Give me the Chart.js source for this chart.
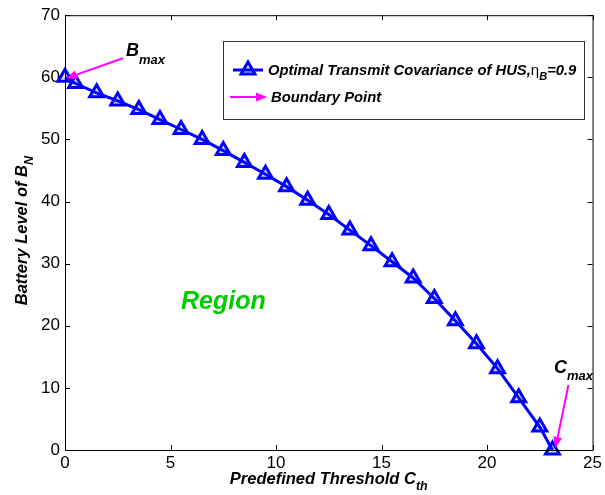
<!DOCTYPE html>
<html>
<head>
<meta charset="utf-8">
<script src="https://cdn.jsdelivr.net/npm/chart.js@4.4.1/dist/chart.umd.min.js"></script>
<style>
  html, body { margin: 0; padding: 0; background: #fff; }
  canvas { display: block; }
</style>
</head>
<body>
<canvas id="batteryChart" width="605" height="495"></canvas>
<script>
// predefined threshold C_th (x) and battery level B_N (y)
const thresholds = [0, 0.5, 1.5, 2.5, 3.5, 4.5, 5.5, 6.5, 7.5, 8.5, 9.5, 10.5, 11.5, 12.5,
    13.5, 14.5, 15.5, 16.5, 17.5, 18.5, 19.5, 20.5, 21.5, 22.5, 23.1];
const batteryLevel = [60, 59.0, 57.5, 56.2, 54.8, 53.2, 51.6, 50.0, 48.2, 46.3, 44.4, 42.4, 40.2, 37.9,
    35.4, 32.9, 30.3, 27.7, 24.4, 20.8, 17.1, 13.1, 8.4, 3.7, 0];
const xTicks = [0, 5, 10, 15, 20, 25];
const yTicks = [0, 10, 20, 30, 40, 50, 60, 70];

const FONT = "'Liberation Sans', Arial, Helvetica, sans-serif";
const BLUE = '#0000FF';
const MAGENTA = '#FF00FF';

// draw "main" followed by a lowered, smaller "sub"
function subText(ctx, x, y, main, sub, size, subSize, drop, style) {
    ctx.font = (style || 'italic bold') + ' ' + size + 'px ' + FONT;
    ctx.fillText(main, x, y);
    const w = ctx.measureText(main).width;
    ctx.font = (style || 'italic bold') + ' ' + subSize + 'px ' + FONT;
    ctx.fillText(sub, x + w, y + drop);
    return w + ctx.measureText(sub).width;
}

function arrow(ctx, x1, y1, x2, y2) {
    const ang = Math.atan2(y2 - y1, x2 - x1);
    const len = 11, half = 4.5;
    ctx.save();
    ctx.strokeStyle = MAGENTA;
    ctx.fillStyle = MAGENTA;
    ctx.lineWidth = 2;
    ctx.beginPath();
    ctx.moveTo(x1, y1);
    ctx.lineTo(x2 - Math.cos(ang) * len * 0.8, y2 - Math.sin(ang) * len * 0.8);
    ctx.stroke();
    ctx.beginPath();
    ctx.moveTo(x2, y2);
    ctx.lineTo(x2 - Math.cos(ang) * len - Math.sin(ang) * half, y2 - Math.sin(ang) * len + Math.cos(ang) * half);
    ctx.lineTo(x2 - Math.cos(ang) * len + Math.sin(ang) * half, y2 - Math.sin(ang) * len - Math.cos(ang) * half);
    ctx.closePath();
    ctx.fill();
    ctx.restore();
}

const decorations = {
    id: 'decorations',
    afterDatasetsDraw(chart) {
        const ctx = chart.ctx;
        const a = chart.chartArea;
        const xs = chart.scales.x, ys = chart.scales.y;
        ctx.save();

        // box and inward ticks
        ctx.strokeStyle = '#000';
        ctx.lineWidth = 1;
        ctx.strokeRect(a.left + 0.5, a.top + 0.5, a.right - a.left, a.bottom - a.top);
        ctx.beginPath();
        xTicks.forEach(function (v) {
            const px = Math.round(xs.getPixelForValue(v)) + 0.5;
            ctx.moveTo(px, a.bottom); ctx.lineTo(px, a.bottom - 5);
            ctx.moveTo(px, a.top); ctx.lineTo(px, a.top + 5);
        });
        yTicks.forEach(function (v) {
            const py = Math.round(ys.getPixelForValue(v)) + 0.5;
            ctx.moveTo(a.left, py); ctx.lineTo(a.left + 5, py);
            ctx.moveTo(a.right, py); ctx.lineTo(a.right - 5, py);
        });
        ctx.stroke();

        // legend
        ctx.strokeStyle = '#333';
        ctx.strokeRect(223.5, 41.5, 361, 78);
        ctx.strokeStyle = BLUE;
        ctx.lineWidth = 3;
        ctx.beginPath();
        ctx.moveTo(233, 70); ctx.lineTo(263, 70);
        ctx.stroke();
        ctx.lineWidth = 3;
        ctx.fillStyle = 'rgba(0,0,255,0.15)';
        ctx.beginPath();
        ctx.moveTo(248, 62); ctx.lineTo(254.9, 74); ctx.lineTo(241.1, 74);
        ctx.closePath();
        ctx.fill(); ctx.stroke();

        ctx.fillStyle = '#000';
        ctx.textAlign = 'left';
        ctx.textBaseline = 'alphabetic';
        ctx.font = 'italic bold 14.8px ' + FONT;
        const t1 = 'Optimal Transmit Covariance of HUS,';
        ctx.fillText(t1, 268, 75);
        let lx = 268 + ctx.measureText(t1).width;
        ctx.font = '15px ' + FONT;
        ctx.fillText('\u03B7', lx, 75);
        lx += ctx.measureText('\u03B7').width;
        ctx.font = 'italic bold 11px ' + FONT;
        ctx.fillText('B', lx, 80);
        lx += ctx.measureText('B').width;
        ctx.font = 'italic bold 14.8px ' + FONT;
        ctx.fillText('=0.9', lx, 75);

        arrow(ctx, 230, 97, 267, 97);
        ctx.fillStyle = '#000';
        ctx.font = 'italic bold 14.8px ' + FONT;
        ctx.fillText('Boundary Point', 271, 102);

        // B_max annotation
        const bx = xs.getPixelForValue(thresholds[0]);
        const by = ys.getPixelForValue(batteryLevel[0]);
        arrow(ctx, bx + 58, by - 19, bx + 1, by + 1);
        ctx.fillStyle = '#000';
        subText(ctx, 126, 56, 'B', 'max', 18, 13, 8);

        // C_max annotation
        const n = thresholds.length - 1;
        const cx = xs.getPixelForValue(thresholds[n]);
        const cy = ys.getPixelForValue(batteryLevel[n]);
        arrow(ctx, cx + 16, cy - 65, cx + 3, cy - 2);
        ctx.fillStyle = '#000';
        subText(ctx, 554, 373, 'C', 'max', 18, 13, 7);

        // Region label
        ctx.fillStyle = '#00CC00';
        ctx.font = 'italic bold 25px ' + FONT;
        ctx.fillText('Region', 181, 309);

        // axis titles
        ctx.fillStyle = '#000';
        ctx.font = 'italic bold 16.5px ' + FONT;
        const xt = 'Predefined Threshold C';
        const xw = ctx.measureText(xt).width;
        ctx.font = 'italic bold 12.5px ' + FONT;
        const xsw = ctx.measureText('th').width;
        subText(ctx, (a.left + a.right) / 2 - (xw + xsw) / 2, 484, xt, 'th', 16.5, 12.5, 6);

        ctx.save();
        ctx.translate(27, (a.top + a.bottom) / 2 - 2);
        ctx.rotate(-Math.PI / 2);
        ctx.font = 'italic bold 16.5px ' + FONT;
        const yt = 'Battery Level of B';
        const yw = ctx.measureText(yt).width;
        ctx.font = 'italic bold 12.5px ' + FONT;
        const ysw = ctx.measureText('N').width;
        subText(ctx, -(yw + ysw) / 2, 0, yt, 'N', 16.5, 12.5, 6);
        ctx.restore();

        ctx.restore();
    }
};

const ctx = document.getElementById('batteryChart');
new Chart(ctx, {
    type: 'line',
    data: {
        datasets: [{
            label: 'Optimal Transmit Covariance of HUS',
            data: thresholds.map(function (x, i) { return { x: x, y: batteryLevel[i] }; }),
            borderColor: BLUE,
            borderWidth: 3,
            pointStyle: 'triangle',
            pointRadius: 8,
            pointBorderWidth: 3,
            pointBorderColor: BLUE,
            pointBackgroundColor: 'rgba(0,0,255,0.15)',
            tension: 0,
            clip: false
        }]
    },
    options: {
        responsive: false,
        animation: false,
        devicePixelRatio: 1,
        layout: { padding: { left: 0, right: 9, top: 13, bottom: 0 } },
        plugins: { legend: { display: false }, tooltip: { enabled: false } },
        scales: {
            x: {
                type: 'linear',
                min: 0,
                max: 25,
                afterBuildTicks: function (s) { s.ticks = xTicks.map(function (v) { return { value: v }; }); },
                afterFit: function (s) { s.height = 45; },
                ticks: { color: '#000', font: { family: FONT, size: 17 }, padding: 3, maxRotation: 0 },
                grid: { display: false, drawTicks: false },
                border: { display: false }
            },
            y: {
                type: 'linear',
                min: 0,
                max: 70,
                afterBuildTicks: function (s) { s.ticks = yTicks.map(function (v) { return { value: v }; }); },
                afterFit: function (s) { s.width = 65; },
                ticks: { color: '#000', font: { family: FONT, size: 17 }, padding: 5 },
                grid: { display: false, drawTicks: false },
                border: { display: false }
            }
        }
    },
    plugins: [decorations]
});
</script>
</body>
</html>
